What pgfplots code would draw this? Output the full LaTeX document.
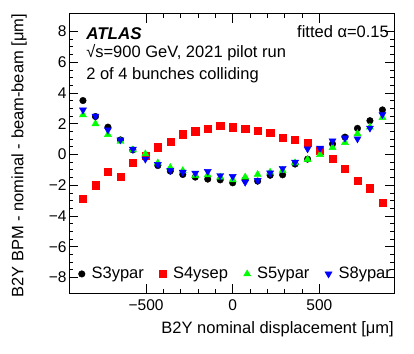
\documentclass[border=0pt]{standalone}
\usepackage{fontspec}
\setmainfont{Liberation Sans}
\usepackage{pgfplots}
\pgfplotsset{compat=1.18}
\usepackage{pgfplotstable}

% S3ypar
\pgfplotstableread{
x y
-864 3.51
-792 2.47
-720 1.78
-648 0.95
-576 0.30
-504 -0.15
-432 -0.72
-360 -1.08
-288 -1.30
-216 -1.47
-144 -1.60
-72 -1.65
0 -1.84
72 -1.62
144 -1.73
216 -1.35
288 -1.32
360 -0.62
432 -0.30
504 0.15
576 0.69
648 1.13
720 1.70
792 2.20
864 2.90
}\sthree
% S4ysep
\pgfplotstableread{
x y
-864 -2.90
-792 -2.00
-720 -1.10
-648 -1.42
-576 -0.53
-504 -0.10
-432 0.48
-360 0.85
-288 1.32
-216 1.52
-144 1.68
-72 1.89
0 1.77
72 1.68
144 1.55
216 1.40
288 1.08
360 0.95
432 0.78
504 0.26
576 -0.26
648 -0.90
720 -1.69
792 -2.19
864 -3.15
}\sfour
% S5ypar
\pgfplotstableread{
x y
-864 2.58
-792 2.00
-720 1.30
-648 0.85
-576 0.30
-504 0.04
-432 -0.55
-360 -0.85
-288 -1.05
-216 -1.37
-144 -1.32
-72 -1.47
0 -1.65
72 -1.47
144 -1.30
216 -1.15
288 -1.04
360 -0.55
432 -0.33
504 0.00
576 0.45
648 0.78
720 1.35
792 1.78
864 2.40
}\sfive
% S8ypar
\pgfplotstableread{
x y
-864 2.90
-792 2.50
-720 1.60
-648 0.95
-576 0.35
-504 -0.30
-432 -0.65
-360 -1.04
-288 -1.15
-216 -1.21
-144 -1.10
-72 -1.37
0 -1.43
72 -1.80
144 -1.69
216 -1.20
288 -0.90
360 -0.50
432 0.37
504 0.41
576 0.89
648 1.08
720 1.02
792 1.72
864 2.60
}\seight

\begin{document}
\begin{tikzpicture}
\begin{axis}[
  scale only axis,
  width=325pt, height=279.6pt,
  xmin=-944.6, xmax=930.8,
  ymin=-9.03, ymax=9.16,
  axis line style={line width=0.8pt},
  tick style={line width=0.8pt, black},
  tick align=inside,
  xtick pos=both, ytick pos=both,
  major tick length=9pt, minor tick length=4.5pt,
  xtick={-500,0,500}, xticklabels={−500,0,500},
  minor x tick num=4,
  ytick={-8,-6,-4,-2,0,2,4,6,8}, yticklabels={−8,−6,−4,−2,0,2,4,6,8},
  minor y tick num=3,
  tick label style={font=\fontsize{15.5}{17}\selectfont},
  xticklabel style={yshift=-3pt},
  yticklabel style={xshift=1pt},
  xlabel={B2Y nominal displacement [μm]},
  ylabel={B2Y BPM - nominal - beam-beam [μm]},
  label style={font=\fontsize{16.5}{18}\selectfont},
  xlabel style={at={(rel axis cs:1,0)}, anchor=north east, yshift=-28pt, inner sep=0pt},
  ylabel style={at={(rel axis cs:0,1)}, anchor=south east, yshift=42pt, inner sep=0pt},
  legend columns=4,
  legend style={draw=none, fill=none, inner sep=0pt, at={(axis cs:-891,-7.77)}, anchor=west,
    font=\fontsize{16.5}{18}\selectfont,
    /tikz/every odd column/.style={column sep=4.5pt},
    /tikz/every even column/.style={column sep=13.5pt}},
  legend image code/.code={\draw[mark repeat=2,mark phase=2] plot coordinates {(0pt,0pt)(3pt,0pt)(6pt,0pt)};},
]
\addplot[only marks, mark=*, mark size=3.3pt, black] table[x=x,y=y] {\sthree};
\addlegendentry{S3ypar}
\addplot[only marks, mark=square*, mark size=3.6pt, red, draw=red] table[x=x,y=y] {\sfour};
\addlegendentry{S4ysep}
\addplot[only marks, mark=triangle*, mark size=4.1pt, color={rgb,255:red,0;green,255;blue,0}] table[x=x,y=y] {\sfive};
\addlegendentry{S5ypar}
\addplot[only marks, mark=triangle*, mark size=4.1pt, mark options={rotate=180}, blue] table[x=x,y=y] {\seight};
\addlegendentry{S8ypar}

\node[anchor=base west, inner sep=0pt, font=\fontsize{17}{19}\selectfont\bfseries\itshape] at (axis cs:-846,7.45) {ATLAS};
\node[anchor=base west, inner sep=0pt, font=\fontsize{16.5}{18}\selectfont] at (axis cs:-846,6.34) {√s=900 GeV, 2021 pilot run};
\node[anchor=base west, inner sep=0pt, font=\fontsize{16.5}{18}\selectfont] at (axis cs:-846,4.85) {2 of 4 bunches colliding};
\node[anchor=base east, inner sep=0pt, font=\fontsize{16.5}{18}\selectfont] at (axis cs:902,7.61) {fitted α=0.15};
\end{axis}
\pgfresetboundingbox
\path ([xshift=-69pt,yshift=-59.7pt]current axis.south west) rectangle ([xshift=20pt,yshift=13.7pt]current axis.north east);
\end{tikzpicture}
\end{document}
